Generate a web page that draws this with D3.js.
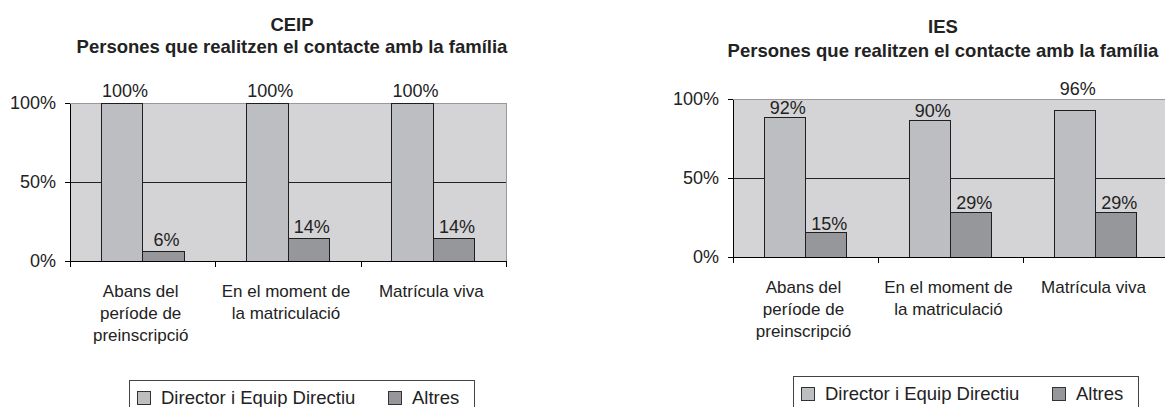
<!doctype html>
<html>
<head>
<meta charset="UTF-8">
<script src="https://d3js.org/d3.v7.min.js"></script>
<style type="text/css">
body { margin: 0; background: #fff; }
svg { font-family: "Liberation Sans", Arial, sans-serif; }
.axis path, .axis line { stroke: #000; shape-rendering: crispEdges; }
.axis text { font-size: 18px; fill: #222; }
</style>
</head>
<body>
<script>
// categories and series
var categories = [["Abans del", "període de", "preinscripció"], ["En el moment de", "la matriculació"], ["Matrícula viva"]];
var series = ["Director i Equip Directiu", "Altres"];
var yTicks = [0, 50, 100];

// CEIP values (bar height)
var ceipDirector = [100, 100, 100];
var ceipAltres = [6, 14, 14];
var ceipDirectorLabels = ["100%", "100%", "100%"];
var ceipAltresLabels = ["6%", "14%", "14%"];

// IES values - bars of the first series are drawn a bit shorter than their labels in the original
var iesDirector = [88.6, 86.5, 92.8];
var iesAltres = [15.2, 28.3, 28.3];
var iesDirectorLabels = ["92%", "90%", "96%"];
var iesAltresLabels = ["15%", "29%", "29%"];

var colors = ["#bdbec1", "#96979a"];

var w = 1165, h = 407;
var svg = d3.select("body").append("svg")
    .attr("width", w)
    .attr("height", h);

function drawChart(cfg) {
  var g = svg.append("g");

  // title
  var title = g.append("text")
      .attr("x", cfg.titleX)
      .attr("text-anchor", "middle")
      .style("font-weight", "bold")
      .style("font-size", "18.5px")
      .style("fill", "#222");
  title.append("tspan").attr("x", cfg.titleX).attr("y", cfg.titleY1).text(cfg.title);
  title.append("tspan").attr("x", cfg.titleX).attr("y", cfg.titleY2).text("Persones que realitzen el contacte amb la família");

  var x0 = d3.scaleBand()
      .domain(d3.range(categories.length))
      .range([cfg.left, cfg.left + cfg.width])
      .padding(0);
  var x1 = d3.scaleBand()
      .domain(series)
      .range([0, x0.bandwidth()])
      .paddingInner(0)
      .paddingOuter(0.75);
  var y = d3.scaleLinear()
      .domain([0, 100])
      .range([cfg.bottom, cfg.top]);

  // plot area
  g.append("rect")
      .attr("x", cfg.left)
      .attr("y", cfg.top)
      .attr("width", cfg.width)
      .attr("height", cfg.bottom - cfg.top)
      .attr("fill", "#d4d4d6")
      .attr("stroke", "#999")
      .attr("stroke-width", 1)
      .attr("shape-rendering", "crispEdges");

  // gridline at 50%
  g.append("line")
      .attr("x1", cfg.left).attr("x2", cfg.left + cfg.width)
      .attr("y1", y(50)).attr("y2", y(50))
      .attr("stroke", "#222")
      .attr("shape-rendering", "crispEdges");

  var data = [cfg.a, cfg.b];
  var labels = [cfg.aLabels, cfg.bLabels];

  // label baseline: just above the bar, or above the frame when it would cross the top line
  function labelY(d) {
    var yy = y(d) - cfg.labelGap;
    if (yy > cfg.top && yy - 13 < cfg.top) yy = cfg.top - 4;
    return yy;
  }

  series.forEach(function(s, si) {
    g.selectAll(".bar" + si)
        .data(data[si])
        .enter().append("rect")
        .attr("x", function(d, i) { return x0(i) + x1(s); })
        .attr("y", function(d) { return y(d); })
        .attr("width", x1.bandwidth())
        .attr("height", function(d) { return cfg.bottom - y(d); })
        .attr("fill", colors[si])
        .attr("stroke", "#1e1e1e")
        .attr("stroke-width", 1)
        .attr("shape-rendering", "crispEdges");

    g.selectAll(".lab" + si)
        .data(data[si])
        .enter().append("text")
        .attr("x", function(d, i) { return x0(i) + x1(s) + x1.bandwidth() / 2 + 3; })
        .attr("y", labelY)
        .attr("text-anchor", "middle")
        .style("font-size", "18px")
        .style("fill", "#222")
        .text(function(d, i) { return labels[si][i]; });
  });

  // y axis
  g.append("g")
      .attr("class", "axis")
      .attr("transform", "translate(" + cfg.left + ",0)")
      .call(d3.axisLeft(y).tickValues(yTicks).tickSize(5).tickSizeOuter(0).tickPadding(9)
        .tickFormat(function(d) { return d + "%"; }));

  // x axis with ticks between categories
  var xb = d3.scaleLinear().domain([0, categories.length]).range([cfg.left, cfg.left + cfg.width]);
  g.append("g")
      .attr("class", "axis")
      .attr("transform", "translate(0," + cfg.bottom + ")")
      .call(d3.axisBottom(xb).tickValues(d3.range(categories.length + 1)).tickSize(6).tickSizeOuter(0)
        .tickFormat(""));

  // category labels
  categories.forEach(function(lines, i) {
    var t = g.append("text")
        .attr("text-anchor", "middle")
        .style("font-size", "17px")
        .style("fill", "#222");
    lines.forEach(function(l, li) {
      t.append("tspan")
          .attr("x", x0(i) + x0.bandwidth() / 2 - 2)
          .attr("y", cfg.bottom + 36 + li * 22)
          .text(l);
    });
  });

  // legend
  var lg = g.append("g").attr("transform", "translate(" + cfg.legendX + "," + cfg.legendY + ")");
  lg.append("rect")
      .attr("x", 0).attr("y", 0)
      .attr("width", 345).attr("height", 40)
      .attr("fill", "#fff")
      .attr("stroke", "#444")
      .attr("shape-rendering", "crispEdges");
  var legX = [8, 259];
  series.forEach(function(s, si) {
    lg.append("rect")
        .attr("x", legX[si]).attr("y", 11)
        .attr("width", 13).attr("height", 13)
        .attr("fill", colors[si])
        .attr("stroke", "#333")
        .attr("shape-rendering", "crispEdges");
    lg.append("text")
        .attr("x", legX[si] + 24).attr("y", 24)
        .style("font-size", "18.5px")
        .style("fill", "#222")
        .text(s);
  });
}

drawChart({
  title: "CEIP", titleX: 292, titleY1: 31, titleY2: 53,
  left: 70, width: 436, top: 103, bottom: 261,
  a: ceipDirector, b: ceipAltres, aLabels: ceipDirectorLabels, bLabels: ceipAltresLabels,
  labelGap: 6, legendX: 129, legendY: 380
});

drawChart({
  title: "IES", titleX: 943, titleY1: 33, titleY2: 57,
  left: 733, width: 435, top: 99, bottom: 257,
  a: iesDirector, b: iesAltres, aLabels: iesDirectorLabels, bLabels: iesAltresLabels,
  labelGap: 3, legendX: 793, legendY: 376
});
</script>
</body>
</html>
